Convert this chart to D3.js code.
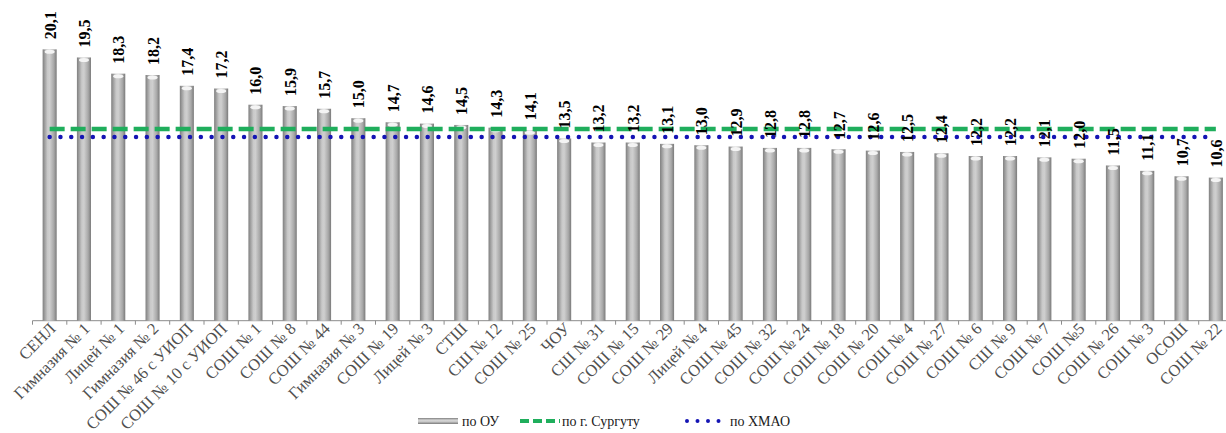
<!DOCTYPE html>
<html>
<head>
<meta charset="utf-8">
<script src="https://cdn.jsdelivr.net/npm/d3@7"></script>
<style>
  html, body { margin: 0; padding: 0; background: #ffffff; }
  svg { display: block; }
</style>
</head>
<body>
<svg id="chart" width="1226" height="433"></svg>
<script>
const categories = ["СЕНЛ", "Гимназия № 1", "Лицей № 1", "Гимназия № 2", "СОШ № 46 с УИОП", "СОШ № 10 с УИОП",
  "СОШ № 1", "СОШ № 8", "СОШ № 44", "Гимназия № 3", "СОШ № 19", "Лицей № 3", "СТШ", "СШ № 12", "СОШ № 25",
  "ЧОУ", "СШ  № 31", "СОШ № 15", "СОШ № 29", "Лицей № 4", "СОШ № 45", "СОШ № 32", "СОШ № 24", "СОШ № 18",
  "СОШ № 20", "СОШ № 4", "СОШ № 27", "СОШ № 6", "СШ № 9", "СОШ № 7", "СОШ №5", "СОШ № 26", "СОШ № 3",
  "ОСОШ", "СОШ № 22"];
const valuesOU = [20.1, 19.5, 18.3, 18.2, 17.4, 17.2, 16.0, 15.9, 15.7, 15.0, 14.7, 14.6, 14.5, 14.3, 14.1,
  13.5, 13.2, 13.2, 13.1, 13.0, 12.9, 12.8, 12.8, 12.7, 12.6, 12.5, 12.4, 12.2, 12.2, 12.1, 12.0, 11.5, 11.1,
  10.7, 10.6];
const valueSurgut = 14.2;
const valueHMAO = 13.6;
const seriesNames = ["по ОУ", "по г. Сургуту", "по ХМАО"];
const yDomain = [0, 22];

const svg = d3.select("#chart");
const baseY = 320.7;
const x = d3.scaleBand().domain(categories).range([32.5, 1233]).paddingInner(0.59).paddingOuter(0.295);
const y = d3.scaleLinear().domain(yDomain).range([baseY, baseY - 22 * 13.5]);
const xc = c => x(c) + x.bandwidth() / 2;
const fmt = v => d3.format(".1f")(v).replace(".", ",");
const serif = "'Liberation Serif', 'Times New Roman', serif";

const defs = svg.append("defs");
const g1 = defs.append("linearGradient").attr("id", "cyl").attr("x1", "0").attr("x2", "1").attr("y1", "0").attr("y2", "0");
[[0, "#7f7f7f"], [0.35, "#c9c9c9"], [0.5, "#cfcfcf"], [0.8, "#a8a8a8"], [1, "#7a7a7a"]].forEach(([o, c]) =>
  g1.append("stop").attr("offset", o).attr("stop-color", c));
const g2 = defs.append("linearGradient").attr("id", "cylH").attr("x1", "0").attr("x2", "0").attr("y1", "0").attr("y2", "1");
[[0, "#7f7f7f"], [0.35, "#d6d6d6"], [0.6, "#c9c9c9"], [1, "#7a7a7a"]].forEach(([o, c]) =>
  g2.append("stop").attr("offset", o).attr("stop-color", c));

// axis line and ticks
const axisG = svg.append("g");
axisG.append("line").attr("x1", x.range()[0]).attr("x2", x.range()[1])
  .attr("y1", baseY).attr("y2", baseY).attr("stroke", "#8c8c8c").attr("stroke-width", 1);
const bounds = categories.map(c => xc(c) - x.step() / 2);
axisG.selectAll("line.tick").data(bounds).join("line").attr("class", "tick")
  .attr("x1", d => d).attr("x2", d => d).attr("y1", baseY).attr("y2", baseY + 4)
  .attr("stroke", "#8c8c8c").attr("stroke-width", 1);

// bars
const bars = svg.append("g");
bars.selectAll("rect").data(valuesOU).join("rect")
  .attr("x", (d, i) => x(categories[i]))
  .attr("y", d => y(d))
  .attr("width", x.bandwidth())
  .attr("height", d => baseY - y(d))
  .attr("fill", "url(#cyl)");
bars.selectAll("ellipse").data(valuesOU).join("ellipse")
  .attr("cx", (d, i) => xc(categories[i]))
  .attr("cy", d => y(d) + 2.5)
  .attr("rx", x.bandwidth() / 2 - 2)
  .attr("ry", 2)
  .attr("fill", "#f4f4f4");

// reference lines
const x0 = xc(categories[0]), x1 = xc(categories[categories.length - 1]);
svg.append("line").attr("x1", x0).attr("x2", x1).attr("y1", y(valueSurgut)).attr("y2", y(valueSurgut))
  .attr("stroke", "#1fae5c").attr("stroke-width", 4.5).attr("stroke-dasharray", "15,6");
svg.append("line").attr("x1", x0).attr("x2", x1).attr("y1", y(valueHMAO)).attr("y2", y(valueHMAO))
  .attr("stroke", "#1414b4").attr("stroke-width", 4.5).attr("stroke-linecap", "round").attr("stroke-dasharray", "0,10.8");

// value labels
svg.append("g").selectAll("text").data(valuesOU).join("text")
  .attr("transform", (d, i) => `translate(${xc(categories[i]) + 6},${y(d) - 10}) rotate(-90)`)
  .attr("text-anchor", "start")
  .attr("font-family", serif)
  .attr("font-weight", "bold")
  .attr("font-size", 16)
  .attr("fill", "#000")
  .text(d => fmt(d));

// category labels
svg.append("g").selectAll("text").data(categories).join("text")
  .attr("transform", c => `translate(${xc(c) + 7},${baseY + 9}) rotate(-45)`)
  .attr("text-anchor", "end")
  .attr("font-family", serif)
  .attr("font-size", 16.5)
  .attr("fill", "#505050")
  .text(c => c);

// legend
const ly = 421;
const leg = svg.append("g").attr("font-family", serif)
  .attr("font-size", 14).attr("fill", "#1a1a1a");
leg.append("rect").attr("x", 418).attr("y", ly - 3).attr("width", 40).attr("height", 6).attr("fill", "url(#cylH)");
leg.append("text").attr("x", 462).attr("y", ly + 5).text(seriesNames[0]);
leg.append("line").attr("x1", 520).attr("x2", 560).attr("y1", ly).attr("y2", ly)
  .attr("stroke", "#1fae5c").attr("stroke-width", 4).attr("stroke-dasharray", "9,4");
leg.append("text").attr("x", 562).attr("y", ly + 5).text(seriesNames[1]);
leg.append("line").attr("x1", 687).attr("x2", 720).attr("y1", ly).attr("y2", ly)
  .attr("stroke", "#1414b4").attr("stroke-width", 4).attr("stroke-linecap", "round").attr("stroke-dasharray", "0,10.5");
leg.append("text").attr("x", 730).attr("y", ly + 5).text(seriesNames[2]);
</script>
</body>
</html>
